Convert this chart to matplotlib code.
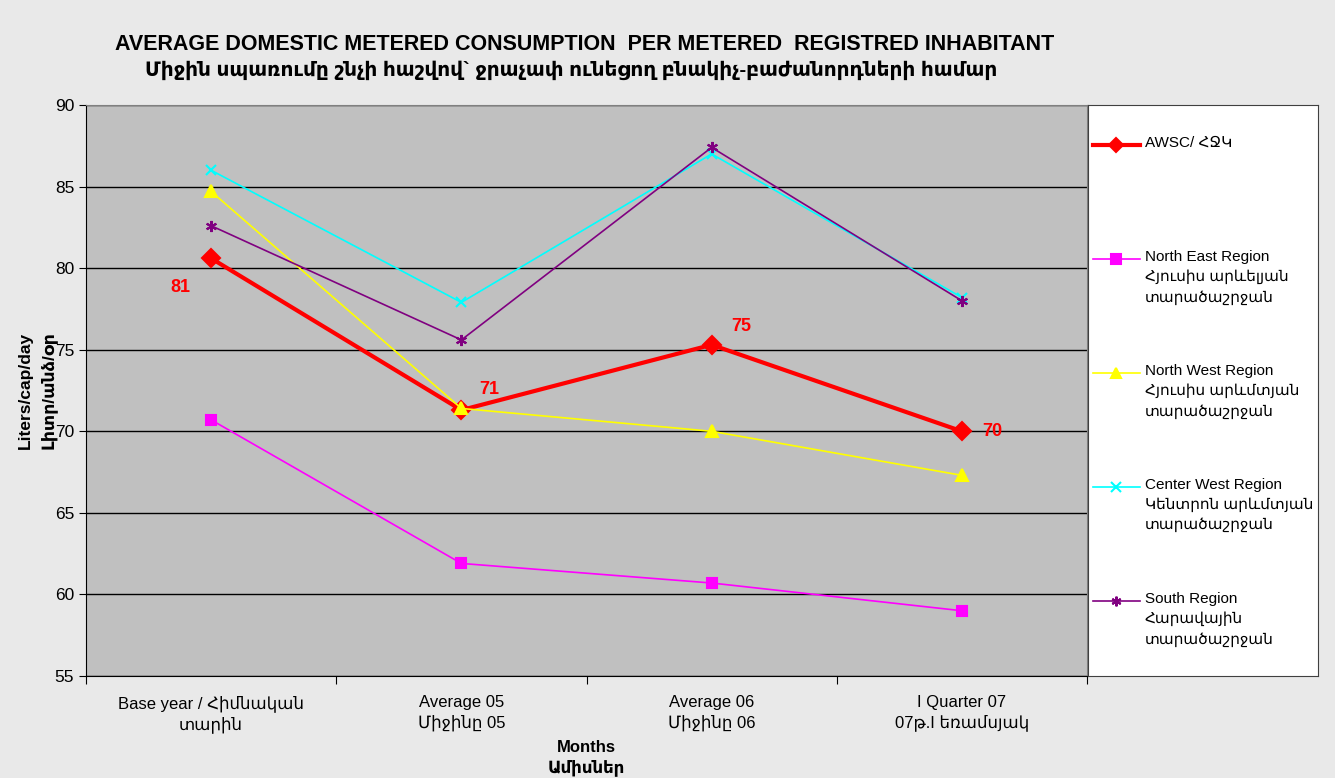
import matplotlib.pyplot as plt
from matplotlib.lines import Line2D

plt.rcParams['font.family'] = ['Liberation Sans', 'DejaVu Sans']

# Datos
categorias = ["Base year / Հիմնական\nտարին", "Average 05\nՄիջինը 05",
              "Average 06\nՄիջինը 06", "I Quarter 07\n07թ.I եռամսյակ"]
awsc = [80.6, 71.3, 75.3, 70.0]
north_east = [70.7, 61.9, 60.7, 59.0]
north_west = [84.7, 71.4, 70.0, 67.3]
center_west = [86.0, 77.9, 87.0, 78.2]
south = [82.6, 75.6, 87.4, 78.0]
etiquetas_awsc = ["81", "71", "75", "70"]

nombres = ["AWSC/ ՀՋԿ",
           "North East Region\nՀյուսիս արևելյան\nտարածաշրջան",
           "North West Region\nՀյուսիս արևմտյան\nտարածաշրջան",
           "Center West Region\nԿենտրոն արևմտյան\nտարածաշրջան",
           "South Region\nՀարավային\nտարածաշրջան"]
series = [awsc, north_east, north_west, center_west, south]
colores = ["#ff0000", "#ff00ff", "#ffff00", "#00ffff", "#800080"]
marcadores = ["D", "s", "^", "x", (6, 2, 0)]
grosores = [3.0, 1.2, 1.2, 1.2, 1.2]
tam_marcador = [9, 7, 8, 7, 8]

fig = plt.figure(figsize=(13.35, 7.78), dpi=100)
fig.patch.set_facecolor("#e9e9e9")

ax = fig.add_axes([86 / 1335, 1 - 676 / 778, 1001 / 1335, 571 / 778])
ax.set_facecolor("#c0c0c0")

x = list(range(len(categorias)))
for vals, col, mk, lw, ms in zip(series, colores, marcadores, grosores, tam_marcador):
    ax.plot(x, vals, color=col, marker=mk, lw=lw, ms=ms, mew=1.5,
            markerfacecolor=col, markeredgecolor=col)

# Etiquetas de AWSC
desplaz = [(-22, -21), (20, 15), (21, 13), (22, 0)]
for i, (v, t) in enumerate(zip(awsc, etiquetas_awsc)):
    ax.annotate(t, (i, v), xytext=desplaz[i], textcoords="offset points",
                ha="center", va="center", color="#ff0000",
                fontsize=13, fontweight="bold")

ax.set_xlim(-0.5, 3.5)
ax.set_ylim(55, 90)
ax.set_yticks(range(55, 91, 5))
ax.yaxis.grid(True, color="black", lw=1)
ax.set_axisbelow(True)
ax.set_xticks([-0.5, 0.5, 1.5, 2.5, 3.5])
ax.set_xticklabels([])
ax.set_xticks(x, minor=True)
ax.set_xticklabels(categorias, minor=True, fontsize=12, linespacing=1.3)
ax.tick_params(axis="x", which="minor", length=0, pad=14)
ax.tick_params(axis="x", which="major", length=6, direction="out")
ax.tick_params(axis="y", labelsize=12.5, length=5, direction="out")
for lado in ["top", "right"]:
    ax.spines[lado].set_color("#808080")
ax.spines["left"].set_color("black")
ax.spines["bottom"].set_color("black")

ax.set_ylabel("Liters/cap/day\nԼիտր/անձ/օր", fontsize=12.5, fontweight="bold",
              linespacing=1.55)
ax.yaxis.set_label_coords(-0.029, 0.5)
ax.set_xlabel("Months\nԱմիսներ", fontsize=12, fontweight="bold", linespacing=1.35)
ax.xaxis.set_label_coords(0.5, -0.112)

fig.text(585 / 1335, 1 - 44 / 778,
         "AVERAGE DOMESTIC METERED CONSUMPTION  PER METERED  REGISTRED INHABITANT",
         ha="center", va="center", fontsize=15.5, fontweight="bold")
fig.text(571 / 1335, 1 - 70 / 778,
         "Միջին սպառումը շնչի հաշվով` ջրաչափ ունեցող բնակիչ-բաժանորդների համար",
         ha="center", va="center", fontsize=14.5, fontweight="bold")

# Leyenda
axl = fig.add_axes([1088 / 1335, 1 - 676 / 778, 230 / 1335, 571 / 778])
axl.set_facecolor("white")
axl.set_xlim(0, 230)
axl.set_ylim(571, 0)
axl.set_xticks([])
axl.set_yticks([])
for s in axl.spines.values():
    s.set_color("#404040")
for i, (n, col, mk, lw) in enumerate(zip(nombres, colores, marcadores, grosores)):
    yy = 40 + i * 114
    axl.add_line(Line2D([5, 52], [yy, yy], color=col, lw=lw))
    axl.plot([28], [yy], marker=mk, color=col, ms=7, mew=1.5)
    axl.text(57, yy - 9, n, ha="left", va="top", fontsize=11, linespacing=1.5)

fig.savefig("out.png", dpi=100, facecolor=fig.get_facecolor())
